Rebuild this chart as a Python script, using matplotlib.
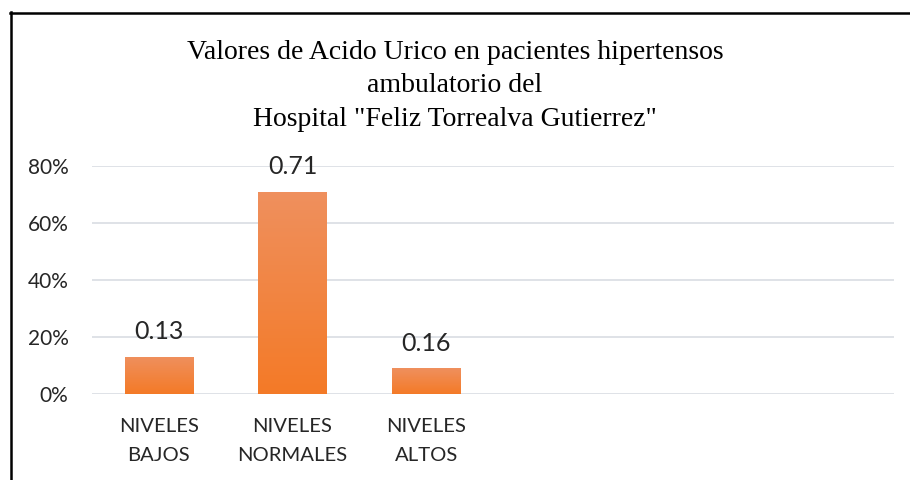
import numpy as np
import matplotlib
matplotlib.use("Agg")
import matplotlib.pyplot as plt
from matplotlib.lines import Line2D

# data
categories = ["NIVELES\nBAJOS", "NIVELES\nNORMALES", "NIVELES\nALTOS", "", "", ""]
heights = [0.13, 0.71, 0.09, np.nan, np.nan, np.nan]
bar_labels = ["0.13", "0.71", "0.16"]
y_ticks = [0.0, 0.2, 0.4, 0.6, 0.8]
y_ticklabels = ["0%", "20%", "40%", "60%", "80%"]
title = 'Valores de Acido Urico en pacientes hipertensos\nambulatorio del\nHospital "Feliz Torrealva Gutierrez"'

label_font = "Lato"
txt_color = "#262626"

fig = plt.figure(figsize=(9.1, 4.8), dpi=100)
ax = fig.add_axes([92 / 910, 1 - 394 / 480, (894 - 92) / 910, (394 - 166) / 480])

x = np.arange(len(categories))
bars = ax.bar(x, heights, width=0.51, color="#f28440", zorder=2)

# vertical orange gradient inside each bar
grad = np.linspace(0, 1, 256).reshape(-1, 1)
cmap = matplotlib.colors.LinearSegmentedColormap.from_list("og", ["#f47a27", "#ef905e"])
for b in bars:
    h = b.get_height()
    if not np.isfinite(h):
        continue
    x0 = b.get_x()
    im = ax.imshow(grad, cmap=cmap, origin="lower", aspect="auto",
                   extent=(x0, x0 + b.get_width(), 0, h), zorder=3)
    im.set_clip_path(b)

for xi, h, lab in zip(x, heights, bar_labels):
    ax.annotate(lab, (xi, h), xytext=(0, 18), textcoords="offset points",
                ha="center", va="center", fontsize=18, color=txt_color,
                family=label_font)

ax.set_xlim(-0.5, len(categories) - 0.5)
ax.set_ylim(0, 0.8)
ax.set_yticks(y_ticks)
ax.set_yticklabels(y_ticklabels, fontsize=15, color=txt_color, family=label_font)
ax.set_xticks(x)
ax.set_xticklabels(categories, fontsize=14.6, color=txt_color, family=label_font,
                   linespacing=1.9)
ax.tick_params(axis="both", length=0)
ax.tick_params(axis="y", pad=17)
ax.tick_params(axis="x", pad=17)
ax.grid(axis="y", color="#d9dde3", lw=1.2, zorder=0)
ax.set_axisbelow(True)
for s in ax.spines.values():
    s.set_visible(False)

fig.text(0.5, 1 - 86 / 480, title, ha="center", va="center", fontsize=20,
         family="Liberation Serif", color="black", linespacing=1.43)

# outer frame (cut off on the right and bottom)
fig.add_artist(Line2D([10 / 910, 1], [1 - 12.5 / 480] * 2, color="black", lw=1.8,
                      transform=fig.transFigure))
fig.add_artist(Line2D([10.5 / 910] * 2, [0, 1 - 12 / 480], color="black", lw=1.8,
                      transform=fig.transFigure))

fig.savefig("out.png", dpi=100)
